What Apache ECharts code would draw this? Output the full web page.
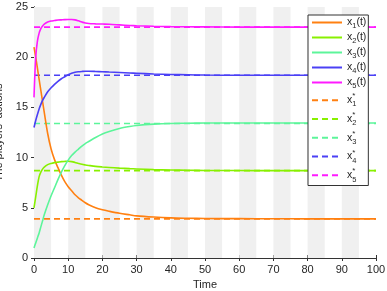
<!DOCTYPE html>
<html>
<head>
<meta charset="utf-8">
<script src="https://cdn.jsdelivr.net/npm/echarts@6/dist/echarts.min.js"></script>
<style>
html,body{margin:0;padding:0;background:#fff;}
#chart{width:387px;height:291px;}
</style>
</head>
<body>
<div id="chart"></div>
<script>
// ---- data ----
const time = [0,0.5,1,1.5,2,2.5,3,4,5,6,7,8,9,10,11,12,13,14,15,16,18,20,22,25,28,30,35,40,45,50,60,70,80,90,100];
const x1 = [21.0,20.0,18.9,17.8,16.7,15.6,14.5,12.4,10.85,9.8,9.0,8.25,7.6,7.1,6.7,6.3,6.0,5.75,5.5,5.3,5.0,4.8,4.65,4.45,4.3,4.2,4.08,4.0,3.96,3.93,3.92,3.91,3.9,3.9,3.9];
const x2 = [5.0,6.1,7.2,8.1,8.55,8.85,9.05,9.3,9.42,9.5,9.55,9.6,9.62,9.63,9.6,9.52,9.42,9.33,9.27,9.22,9.13,9.07,9.02,8.95,8.9,8.87,8.8,8.76,8.74,8.72,8.71,8.7,8.7,8.7,8.7];
const x3 = [1.0,1.5,2.0,2.5,3.1,3.7,4.3,5.3,6.2,7.0,7.8,8.55,9.2,9.75,10.2,10.55,10.85,11.15,11.4,11.6,12.0,12.35,12.6,12.9,13.1,13.2,13.33,13.4,13.42,13.44,13.45,13.45,13.45,13.45,13.45];
const x4 = [13.0,13.7,14.3,14.85,15.3,15.7,16.0,16.55,16.95,17.3,17.6,17.85,18.05,18.25,18.4,18.5,18.55,18.58,18.6,18.6,18.58,18.55,18.52,18.48,18.43,18.4,18.33,18.28,18.25,18.22,18.2,18.2,18.2,18.2,18.2];
const x5 = [16.0,20.0,21.6,22.4,22.85,23.1,23.3,23.5,23.6,23.65,23.7,23.72,23.74,23.75,23.75,23.72,23.62,23.5,23.4,23.35,23.32,23.3,23.28,23.22,23.16,23.13,23.08,23.05,23.03,23.02,23.0,23.0,23.0,23.0,23.0];
const xStar = [3.9, 8.7, 13.4, 18.2, 23.0];
const bandStarts = [0,10,20,30,40,50,60,70,80,90];
const bandWidth = 5;
const xTicks = {min:0, max:100, interval:10};
const yTicks = {min:0, max:25, interval:5};
const colors = ['#FF8011','#88F000','#5CF59A','#4B40F5','#FF1AFF'];
const solidNames = ['x1(t)','x2(t)','x3(t)','x4(t)','x5(t)'];
const starNames = ['x1*','x2*','x3*','x4*','x5*'];
const curves = [x1,x2,x3,x4,x5];

// ---- chart ----
const chart = echarts.init(document.getElementById('chart'), null, {renderer:'canvas'});
const axisColor = '#333333';
const font = 'Liberation Sans, Arial, sans-serif';

const series = [];
curves.forEach((c, i) => {
  series.push({
    name: solidNames[i], type: 'line', xAxisIndex: 0, yAxisIndex: 0,
    data: time.map((t, k) => [t, c[k]]),
    showSymbol: false, symbol: 'none', smooth: 0.3,
    lineStyle: {color: colors[i], width: 1.6}, itemStyle: {color: colors[i]},
    z: 3, animation: false
  });
});
xStar.forEach((v, i) => {
  const s = {
    name: starNames[i], type: 'line', xAxisIndex: 0, yAxisIndex: 0,
    data: [[xTicks.min, v], [xTicks.max, v]],
    showSymbol: false, symbol: 'none',
    lineStyle: {color: colors[i], width: 1.6, type: [6, 4]}, itemStyle: {color: colors[i]},
    z: 2, animation: false
  };
  if (i === 0) {
    s.markArea = {
      silent: true,
      itemStyle: {color: '#F0F0F0'},
      data: bandStarts.map(b => [{xAxis: b}, {xAxis: b + bandWidth}])
    };
  }
  series.push(s);
});

function legendFmt(name) {
  const idx = name.charAt(1);
  if (name.indexOf('*') >= 0) {
    return '{n2|x}{p|*}{s2|' + idx + '}';
  }
  return '{n|x}{s|' + idx + '}{n|(t)}';
}

const option = {
  backgroundColor: '#ffffff',
  animation: false,
  grid: {left: 34, right: 11, top: 7, bottom: 33, containLabel: false, outerBoundsMode: 'none'},
  xAxis: [{
    type: 'value', min: xTicks.min, max: xTicks.max, interval: xTicks.interval,
    position: 'bottom',
    name: 'Time', nameLocation: 'middle', nameGap: 20,
    nameTextStyle: {color: '#262626', fontSize: 11, fontFamily: font},
    axisLine: {show: true, lineStyle: {color: axisColor, width: 1}},
    axisTick: {show: true, inside: true, length: 3, lineStyle: {color: axisColor}},
    axisLabel: {color: '#262626', fontSize: 11, fontFamily: font, margin: 6},
    splitLine: {show: false}
  }, {
    type: 'value', min: xTicks.min, max: xTicks.max, interval: xTicks.interval,
    position: 'top',
    axisLine: {show: true, lineStyle: {color: axisColor, width: 1}},
    axisTick: {show: true, inside: true, length: 3, lineStyle: {color: axisColor}},
    axisLabel: {show: false}, splitLine: {show: false}
  }],
  yAxis: [{
    type: 'value', min: yTicks.min, max: yTicks.max, interval: yTicks.interval,
    position: 'left',
    name: 'The players\u2019 actions', nameLocation: 'middle', nameGap: 20,
    nameTextStyle: {color: '#262626', fontSize: 11, fontFamily: font},
    axisLine: {show: true, lineStyle: {color: axisColor, width: 1}},
    axisTick: {show: true, inside: true, length: 3, lineStyle: {color: axisColor}},
    axisLabel: {color: '#262626', fontSize: 11, fontFamily: font, margin: 6},
    splitLine: {show: false}
  }, {
    type: 'value', min: yTicks.min, max: yTicks.max, interval: yTicks.interval,
    position: 'right',
    axisLine: {show: true, lineStyle: {color: axisColor, width: 1}},
    axisTick: {show: true, inside: true, length: 3, lineStyle: {color: axisColor}},
    axisLabel: {show: false}, splitLine: {show: false}
  }],
  legend: {
    show: true, orient: 'vertical', left: 308, top: 15,
    padding: [2, 2, 2, 3], itemGap: 2.5, itemWidth: 30, itemHeight: 12,
    itemStyle: {opacity: 0, color: 'rgba(0,0,0,0)', borderWidth: 0},
    backgroundColor: '#ffffff', borderColor: '#333333', borderWidth: 1, borderRadius: 0,
    data: solidNames.concat(starNames),
    formatter: legendFmt,
    selectedMode: false,
    textStyle: {
      color: '#262626', fontFamily: font, fontSize: 10.5,
      rich: {
        n: {fontSize: 10.5, lineHeight: 14, color: '#262626', fontFamily: font},
        s: {fontSize: 7.5, lineHeight: 8, verticalAlign: 'bottom', color: '#262626', fontFamily: font},
        n2: {fontSize: 10.5, lineHeight: 16.3, color: '#262626', fontFamily: font},
        p: {fontSize: 8, lineHeight: 8, width: 0, verticalAlign: 'top', color: '#262626', fontFamily: font},
        s2: {fontSize: 7.5, lineHeight: 8, verticalAlign: 'bottom', color: '#262626', fontFamily: font}
      }
    }
  },
  series: series
};
chart.setOption(option);
</script>
</body>
</html>
